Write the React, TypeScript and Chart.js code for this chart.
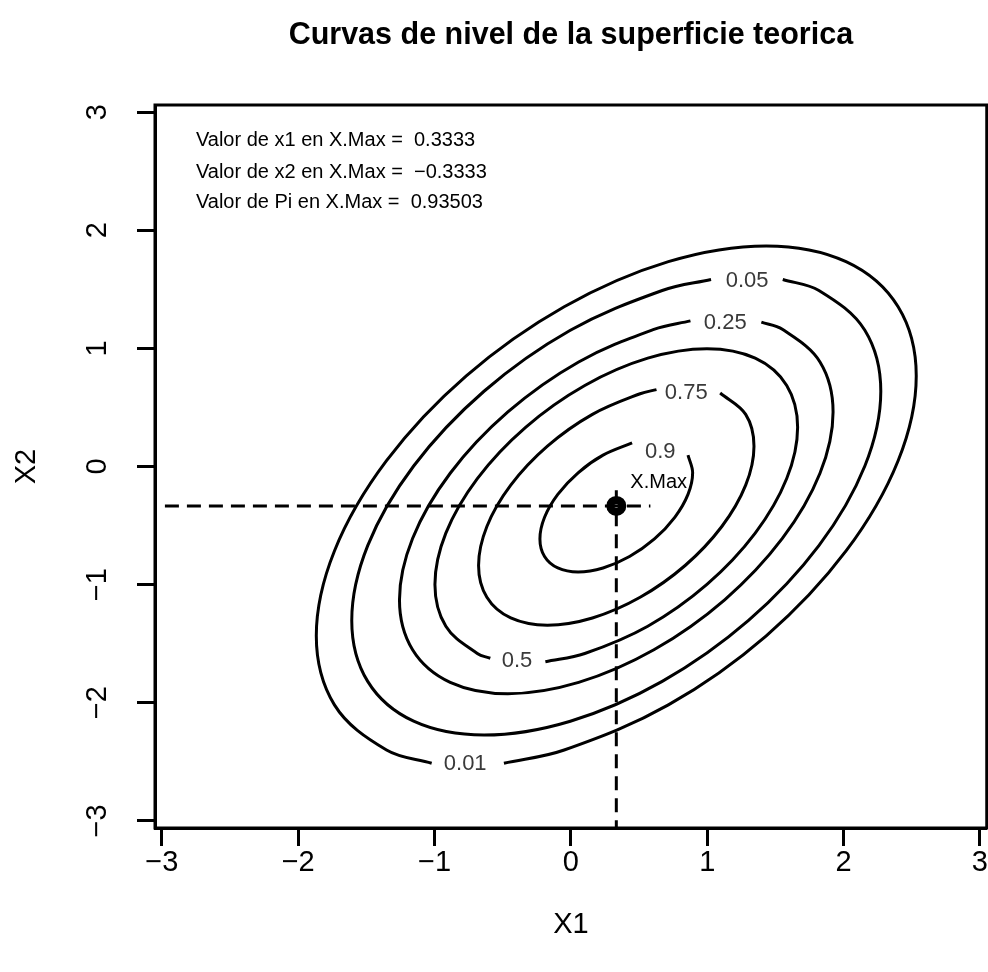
import React, { useEffect, useRef } from 'react';
import { Chart, registerables } from 'chart.js';

Chart.register(...registerables);

const FONT = '"Liberation Sans", Arial, sans-serif';

const TITLE = 'Curvas de nivel de la superficie teorica';
const X_TITLE = 'X1';
const Y_TITLE = 'X2';
const xTicks = [-3, -2, -1, 0, 1, 2, 3];
const yTicks = [-3, -2, -1, 0, 1, 2, 3];
const xRange = [-3.05, 3.05];
const yRange = [-3.06, 3.06];

// contour levels and their label anchor points
const levels = ['0.01', '0.05', '0.25', '0.5', '0.75', '0.9'];
const labelPos: [number, number][] = [
  [-0.775, -2.52],
  [1.293, 1.57],
  [1.132, 1.215],
  [-0.395, -1.65],
  [0.846, 0.625],
  [0.656, 0.12],
];

// contour paths (each open at its label gap)
const c001: [number, number][] = [
  [-0.491, -2.512], [-0.049, -2.4], [0.715, -2.018], [1.433, -1.433], [2.018, -0.715],
  [2.4, 0.049], [2.533, 0.767], [2.4, 1.352], [2.018, 1.734], [1.433, 1.867],
  [0.715, 1.734], [-0.049, 1.352], [-0.767, 0.767], [-1.352, 0.049], [-1.734, -0.715],
  [-1.867, -1.433], [-1.734, -2.018], [-1.352, -2.4], [-1.021, -2.512],
];
const c005: [number, number][] = [
  [1.554, 1.583], [1.819, 1.49], [2.156, 1.153], [2.273, 0.637], [2.156, 0.004],
  [1.819, -0.67], [1.303, -1.303], [0.67, -1.819], [-0.004, -2.156], [-0.637, -2.273],
  [-1.153, -2.156], [-1.49, -1.819], [-1.607, -1.303], [-1.49, -0.67], [-1.153, 0.004],
  [-0.637, 0.637], [-0.004, 1.153], [0.67, 1.49], [1.028, 1.583],
];
const c025: [number, number][] = [
  [1.397, 1.222], [1.551, 1.161], [1.827, 0.885], [1.923, 0.462], [1.827, -0.057],
  [1.551, -0.609], [1.128, -1.128], [0.609, -1.551], [0.057, -1.827], [-0.462, -1.923],
  [-0.885, -1.827], [-1.161, -1.551], [-1.257, -1.128], [-1.161, -0.609], [-0.885, -0.057],
  [-0.462, 0.462], [0.057, 0.885], [0.609, 1.161], [0.877, 1.233],
];
const c050: [number, number][] = [
  [-0.187, -1.653], [0.102, -1.583], [0.564, -1.352], [0.998, -0.998], [1.352, -0.564],
  [1.583, -0.102], [1.663, 0.332], [1.583, 0.686], [1.352, 0.917], [0.998, 0.997],
  [0.564, 0.917], [0.102, 0.686], [-0.332, 0.332], [-0.686, -0.102], [-0.917, -0.564],
  [-0.997, -0.998], [-0.917, -1.352], [-0.686, -1.583], [-0.591, -1.623],
];
const c075: [number, number][] = [
  [1.095, 0.622], [1.282, 0.441], [1.343, 0.172], [1.282, -0.158], [1.107, -0.508],
  [0.838, -0.838], [0.508, -1.107], [0.158, -1.282], [-0.172, -1.343], [-0.441, -1.282],
  [-0.616, -1.107], [-0.677, -0.838], [-0.616, -0.508], [-0.441, -0.158], [-0.172, 0.172],
  [0.158, 0.441], [0.508, 0.616], [0.628, 0.651],
];
const c090: [number, number][] = [
  [0.859, 0.096], [0.893, -0.053], [0.859, -0.236], [0.762, -0.43], [0.613, -0.613],
  [0.43, -0.762], [0.236, -0.859], [0.053, -0.893], [-0.096, -0.859], [-0.193, -0.762],
  [-0.227, -0.613], [-0.193, -0.43], [-0.096, -0.236], [0.053, -0.053], [0.236, 0.096],
  [0.449, 0.2],
];
const contours = [c001, c005, c025, c050, c075, c090];

// maximum point and guide lines
const maxPoint: [number, number] = [0.3333, -0.3333];
const hGuide: [number, number][] = [[-3.3, -0.3333], [0.5833, -0.3333]];
const vGuide: [number, number][] = [[0.3333, -3.3], [0.3333, -0.1333]];
const maxLabel = 'X.Max';
const maxLabelPos: [number, number] = [0.436, -0.136];

const infoLines = [
  'Valor de x1 en X.Max =  0.3333',
  'Valor de x2 en X.Max =  \u22120.3333',
  'Valor de Pi en X.Max =  0.93503',
];
const infoX = -2.75;
const infoY = [2.758, 2.492, 2.237];

const toXY = (arr: [number, number][]) => arr.map(([x, y]) => ({ x, y }));
const minus = (v: number) => String(v).replace('-', '\u2212');

const overlay = {
  id: 'overlay',
  afterDatasetsDraw(chart: any) {
    const { ctx, chartArea: a, scales } = chart;
    const sx = scales.x;
    const sy = scales.y;
    ctx.save();
    ctx.lineWidth = 3;
    ctx.strokeStyle = '#000';
    ctx.strokeRect(a.left, a.top, a.right - a.left, a.bottom - a.top);

    ctx.font = `22px ${FONT}`;
    ctx.fillStyle = '#3a3a3a';
    ctx.textAlign = 'center';
    ctx.textBaseline = 'middle';
    levels.forEach((l, i) => {
      ctx.fillText(l, sx.getPixelForValue(labelPos[i][0]), sy.getPixelForValue(labelPos[i][1]));
    });

    ctx.fillStyle = '#000';
    ctx.font = `20px ${FONT}`;
    ctx.textAlign = 'left';
    ctx.fillText(maxLabel, sx.getPixelForValue(maxLabelPos[0]), sy.getPixelForValue(maxLabelPos[1]));
    infoLines.forEach((t, i) => {
      ctx.fillText(t, sx.getPixelForValue(infoX), sy.getPixelForValue(infoY[i]));
    });
    ctx.restore();
  },
};

export default function App() {
  const ref = useRef<HTMLCanvasElement>(null);
  useEffect(() => {
    document.body.style.margin = '0';
    const lineBase = {
      showLine: true,
      borderColor: '#000',
      borderWidth: 3,
      pointRadius: 0,
      pointHoverRadius: 0,
      fill: false,
    };
    const datasets: any[] = contours.map((c, i) => ({
      ...lineBase,
      label: levels[i],
      data: toXY(c),
      tension: 0.36,
    }));
    datasets.push({ ...lineBase, label: 'h', data: toXY(hGuide), borderDash: [14, 8], tension: 0 });
    datasets.push({ ...lineBase, label: 'v', data: toXY(vGuide), borderDash: [14, 8], tension: 0 });
    datasets.push({
      label: 'max',
      data: toXY([maxPoint]),
      showLine: false,
      pointRadius: 6,
      pointBorderWidth: 8,
      pointBackgroundColor: '#fff',
      pointBorderColor: '#000',
    });

    const chart = new Chart(ref.current!, {
      type: 'scatter',
      data: { datasets },
      options: {
        responsive: false,
        animation: false,
        devicePixelRatio: 1,
        layout: { padding: { left: 0, right: 1, top: 0, bottom: 0 }, autoPadding: false },
        plugins: {
          legend: { display: false },
          tooltip: { enabled: false },
          title: {
            display: true,
            fullSize: false,
            text: TITLE,
            color: '#000',
            font: { family: FONT, size: 30.5, weight: 'bold' },
            padding: { top: 17, bottom: 51.4 },
          },
        },
        scales: {
          x: {
            type: 'linear',
            min: xRange[0],
            max: xRange[1],
            afterBuildTicks: (s: any) => { s.ticks = xTicks.map((v) => ({ value: v })); },
            afterFit: (s: any) => { s.height = 144; },
            grid: { drawOnChartArea: false, drawTicks: true, tickLength: 18, tickWidth: 3, tickColor: '#000' },
            border: { display: true, color: '#000', width: 3 },
            ticks: { color: '#000', font: { family: FONT, size: 29 }, padding: 0, callback: (v: any) => minus(v) },
            title: { display: true, text: X_TITLE, color: '#000', font: { family: FONT, size: 29 }, padding: { bottom: 30 } },
          },
          y: {
            type: 'linear',
            min: yRange[0],
            max: yRange[1],
            afterBuildTicks: (s: any) => { s.ticks = yTicks.map((v) => ({ value: v })); },
            afterFit: (s: any) => { s.width = 155; },
            grid: { drawOnChartArea: false, drawTicks: true, tickLength: 18, tickWidth: 3, tickColor: '#000' },
            border: { display: true, color: '#000', width: 3 },
            ticks: {
              color: '#000',
              font: { family: FONT, size: 29 },
              padding: 22,
              minRotation: 90,
              maxRotation: 90,
              crossAlign: 'center',
              callback: (v: any) => minus(v),
            },
            title: { display: true, text: Y_TITLE, color: '#000', font: { family: FONT, size: 29 }, padding: { top: 10 } },
          },
        },
      },
      plugins: [overlay],
    } as any);
    return () => chart.destroy();
  }, []);
  return (
    <div style={{ width: 988, height: 972 }}>
      <canvas ref={ref} width={988} height={972} style={{ display: 'block', width: 988, height: 972 }} />
    </div>
  );
}
